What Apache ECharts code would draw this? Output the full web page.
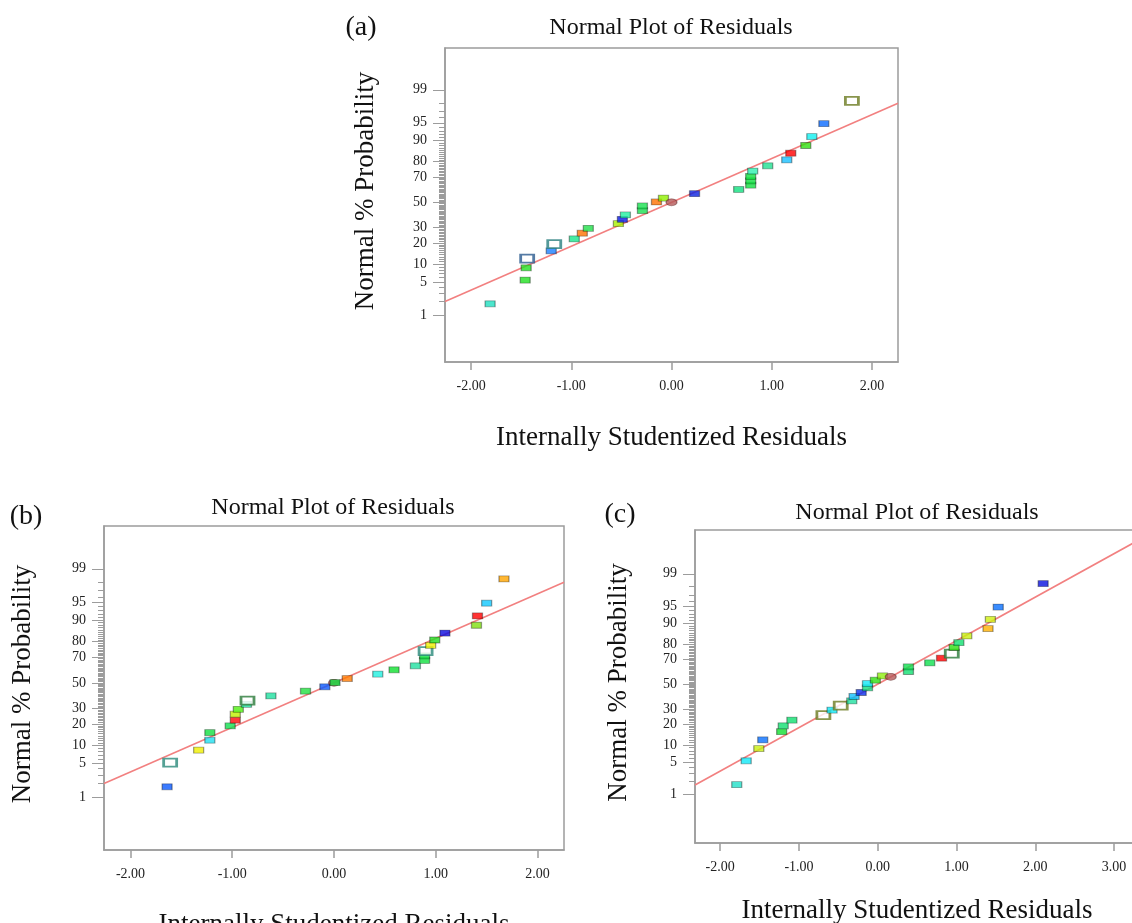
<!DOCTYPE html>
<html>
<head>
<meta charset="utf-8">
<script src="https://cdn.jsdelivr.net/npm/echarts@6/dist/echarts.min.js"></script>
<style>
html,body{margin:0;padding:0;background:#ffffff;}
#chart{width:1132px;height:923px;}
</style>
</head>
<body>
<div id="chart"></div>
<script>
// ---------- tick labels ----------
const probTicks = [1, 5, 10, 20, 30, 50, 70, 80, 90, 95, 99];
const xTicksAB = [-2, -1, 0, 1, 2];
const xTicksC = [-2, -1, 0, 1, 2, 3];

// ---------- panel (a) ----------
const residA = [-1.81, -1.46, -1.45, -1.44, -1.20, -1.17, -0.97, -0.89, -0.83, -0.53, -0.49, -0.46, -0.29, -0.29, -0.15, -0.08, 0.00, 0.23, 0.67, 0.79, 0.79, 0.79, 0.81, 0.96, 1.15, 1.19, 1.34, 1.40, 1.52, 1.80];
const probA  = [1.8, 5.4, 8.8, 12.2, 15.8, 19.4, 22.5, 26.2, 29.6, 33.0, 36.3, 39.7, 43.2, 47.0, 50.3, 53.5, 50.0, 57.1, 60.5, 63.9, 67.2, 70.4, 74.1, 77.5, 81.0, 84.5, 88.0, 91.3, 94.8, 98.2];
const kindA  = ['f','f','f','h','f','h','f','f','f','f','f','f','f','f','f','f','e','f','f','f','f','f','f','f','f','f','f','f','f','h'];
const colorA = ['#1fe0c0','#22e022','#22e022','#2a5a8f','#1a80ff','#2a8080','#19e68c','#ff7000','#22e04a','#a8f000','#0a1ae8','#20f0a0','#19e050','#19e050','#ff7000','#90f000','#b55a5a','#0a22e0','#10e080','#10e040','#10e040','#10e040','#30f0b0','#20e090','#1ac0ff','#ff0000','#30e010','#10f0f0','#0a6aff','#6b7a20'];
const fitSlopeA = 0.907;

// ---------- panel (b) ----------
const residB = [-1.64, -1.61, -1.33, -1.22, -1.22, -1.02, -0.97, -0.97, -0.94, -0.86, -0.85, -0.62, -0.28, -0.09, 0.00, 0.01, 0.13, 0.43, 0.59, 0.80, 0.89, 0.89, 0.90, 0.95, 0.99, 1.09, 1.40, 1.41, 1.50, 1.67];
const probB  = [1.7, 5.2, 8.5, 12.1, 15.5, 19.0, 22.3, 26.1, 29.5, 33.1, 35.9, 39.5, 43.3, 46.8, 50.0, 50.2, 53.5, 57.1, 60.5, 63.6, 67.6, 70.9, 74.2, 77.8, 80.9, 84.5, 88.0, 91.4, 94.8, 98.3];
const kindB  = ['f','h','f','f','f','f','f','f','f','f','h','f','f','f','e','f','f','f','f','f','f','f','h','f','f','f','f','f','f','f'];
const colorB = ['#0a5aff','#2a8a7a','#f0f000','#20e0f0','#10e040','#10e050','#ff0a0a','#c0f000','#50f010','#20e0a0','#2a7a3a','#20e0a0','#22e040','#0a5aff','#b55a5a','#10e040','#ff7a00','#20f0e0','#10e030','#20e0a0','#10e040','#10e040','#2a8a7a','#f0f000','#20e020','#0a0ae0','#80e010','#ff0000','#10c8ff','#ffa500'];
const fitSlopeB = 0.909;

// ---------- panel (c) ----------
const residC = [-1.79, -1.67, -1.51, -1.46, -1.22, -1.20, -1.09, -0.69, -0.58, -0.47, -0.33, -0.30, -0.21, -0.13, -0.13, -0.03, 0.06, 0.165, 0.39, 0.39, 0.66, 0.81, 0.94, 0.97, 1.03, 1.13, 1.40, 1.43, 1.53, 2.10];
const probC  = [1.7, 5.3, 8.7, 12.0, 15.8, 19.0, 22.4, 25.7, 29.2, 32.6, 36.2, 39.7, 43.0, 46.9, 50.5, 53.3, 56.9, 56.1, 60.5, 64.2, 67.3, 70.8, 74.0, 78.0, 80.9, 84.5, 87.9, 91.4, 94.8, 98.3];
const kindC  = ['f','f','f','f','f','f','f','h','f','h','f','f','f','f','f','f','f','e','f','f','f','f','h','f','f','f','f','f','f','f'];
const colorC = ['#20e0c8','#10e8f8','#c8f010','#0a70ff','#10e030','#10e070','#10e070','#6b7a20','#10e8f8','#6b7a20','#20e0a0','#10c0ff','#0a30f0','#10e080','#10e8f8','#30e010','#90f010','#b55a5a','#10e070','#10e050','#10e050','#ff0000','#2a7a3a','#30e010','#10e070','#c8f010','#ffb000','#d0f010','#0a70ff','#0a10e0'];
const fitSlopeC = 0.917;

// ---------- normal quantile (probability scale) ----------
function qnorm(p) {
  const a=[-3.969683028665376e+01,2.209460984245205e+02,-2.759285104469687e+02,1.383577518672690e+02,-3.066479806614716e+01,2.506628277459239e+00];
  const b=[-5.447609879822406e+01,1.615858368580409e+02,-1.556989798598866e+02,6.680131188771972e+01,-1.328068155288572e+01];
  const c=[-7.784894002430293e-03,-3.223964580411365e-01,-2.400758277161838e+00,-2.549732539343734e+00,4.374664141464968e+00,2.938163982698783e+00];
  const d=[7.784695709041462e-03,3.224671290700398e-01,2.445134137142996e+00,3.754408661907416e+00];
  const pl=0.02425, ph=1-pl;
  let q, r;
  if (p < pl) { q=Math.sqrt(-2*Math.log(p)); return (((((c[0]*q+c[1])*q+c[2])*q+c[3])*q+c[4])*q+c[5])/((((d[0]*q+d[1])*q+d[2])*q+d[3])*q+1); }
  if (p <= ph) { q=p-0.5; r=q*q; return (((((a[0]*r+a[1])*r+a[2])*r+a[3])*r+a[4])*r+a[5])*q/(((((b[0]*r+b[1])*r+b[2])*r+b[3])*r+b[4])*r+1); }
  q=Math.sqrt(-2*Math.log(1-p)); return -(((((c[0]*q+c[1])*q+c[2])*q+c[3])*q+c[4])*q+c[5])/((((d[0]*q+d[1])*q+d[2])*q+d[3])*q+1);
}
const zOf = pct => qnorm(pct / 100);
const majorZ = probTicks.map(zOf);
const minorZ = [];
for (let p = 2; p <= 98; p++) { if (probTicks.indexOf(p) < 0) minorZ.push(zOf(p)); }

const FONT = 'Liberation Serif, "Times New Roman", serif';
const AXIS_COLOR = '#9c9c9c';
const TEXT_COLOR = '#222';

const panels = [
  { grid:{left:445, top:48, width:453, height:314}, xmin:-2.26, xmax:2.26, ymin:-3.30, ymax:3.19, xTicks:xTicksAB,
    resid:residA, prob:probA, kind:kindA, color:colorA, slope:fitSlopeA, xGap:62, xPad:[0,0,0,0], yGap:66, yPad:[0,0,0,28] },
  { grid:{left:104, top:526, width:460, height:324}, xmin:-2.26, xmax:2.26, ymin:-3.41, ymax:3.20, xTicks:xTicksAB,
    resid:residB, prob:probB, kind:kindB, color:colorB, slope:fitSlopeB, xGap:61, xPad:[0,0,0,0], yGap:68, yPad:[0,0,0,8] },
  { grid:{left:695, top:530, width:460, height:313}, xmin:-2.32, xmax:3.52, ymin:-3.35, ymax:3.25, xTicks:xTicksC,
    resid:residC, prob:probC, kind:kindC, color:colorC, slope:fitSlopeC, xGap:54, xPad:[0,16,0,0], yGap:63, yPad:[0,0,0,8] }
];

const option = { animation:false, backgroundColor:'#ffffff', grid:[], xAxis:[], yAxis:[], series:[], graphic:[] };

panels.forEach((P, i) => {
  option.grid.push(Object.assign({ show:true, borderColor:AXIS_COLOR, borderWidth:1.5, backgroundColor:'#ffffff', containLabel:false, outerBoundsMode:'none' }, P.grid));
  option.xAxis.push({
    type:'value', gridIndex:i, min:P.xmin, max:P.xmax, position:'bottom',
    name:'Internally Studentized Residuals', nameLocation:'middle', nameGap:P.xGap,
    nameTextStyle:{ fontFamily:FONT, fontSize:27, color:'#111', padding:P.xPad },
    axisLine:{ show:true, onZero:false, lineStyle:{ color:AXIS_COLOR, width:1.5 } },
    axisTick:{ show:true, inside:false, length:8, customValues:P.xTicks, lineStyle:{ color:AXIS_COLOR, width:1.5 } },
    axisLabel:{ show:true, customValues:P.xTicks, margin:17, fontFamily:FONT, fontSize:14, color:TEXT_COLOR, formatter:v => Number(v).toFixed(2) },
    splitLine:{ show:false }
  });
  option.yAxis.push({
    type:'value', gridIndex:i, min:P.ymin, max:P.ymax, position:'left',
    name:'Normal % Probability', nameLocation:'middle', nameGap:P.yGap,
    nameTextStyle:{ fontFamily:FONT, fontSize:27, color:'#111', padding:P.yPad },
    axisLine:{ show:true, onZero:false, lineStyle:{ color:AXIS_COLOR, width:1.5 } },
    axisTick:{ show:true, inside:false, length:12, customValues:majorZ, lineStyle:{ color:AXIS_COLOR, width:1 } },
    axisLabel:{ show:true, customValues:majorZ, margin:18, fontFamily:FONT, fontSize:14, color:TEXT_COLOR,
      formatter:v => { const p = probTicks.find(t => Math.abs(zOf(t) - v) < 1e-4); return p == null ? '' : String(p); } },
    splitLine:{ show:false }
  });
  option.yAxis.push({
    type:'value', gridIndex:i, min:P.ymin, max:P.ymax, position:'left',
    axisLine:{ show:false, onZero:false },
    axisTick:{ show:true, inside:false, length:6, customValues:minorZ, lineStyle:{ color:AXIS_COLOR, width:1 } },
    axisLabel:{ show:false },
    splitLine:{ show:false }
  });
  option.series.push({
    type:'line', xAxisIndex:i, yAxisIndex:2*i, silent:true, z:1, symbol:'none',
    lineStyle:{ color:'#f28080', width:1.6 },
    data:[[P.xmin, P.slope*P.xmin], [P.xmax, P.slope*P.xmax]]
  });
  option.series.push({
    type:'scatter', xAxisIndex:i, yAxisIndex:2*i, z:3,
    data:P.resid.map((r, k) => {
      const kind = P.kind[k], col = P.color[k];
      const item = { value:[r, zOf(P.prob[k])] };
      if (kind === 'h') {
        item.symbol = 'rect'; item.symbolSize = [13, 8];
        item.itemStyle = { color:'#ffffff', borderColor:col, borderWidth:2.2 };
      } else if (kind === 'e') {
        item.symbol = 'circle'; item.symbolSize = [11, 7];
        item.itemStyle = { color:col, borderColor:'rgba(80,30,30,0.6)', borderWidth:1 };
      } else {
        item.symbol = 'rect'; item.symbolSize = [10, 6];
        item.itemStyle = { color:col, borderColor:'rgba(0,0,0,0.45)', borderWidth:1 };
      }
      return item;
    })
  });
});

const texts = [
  { t:'Normal Plot of Residuals', x:671, y:28, size:24 },
  { t:'Normal Plot of Residuals', x:333, y:508, size:24 },
  { t:'Normal Plot of Residuals', x:917, y:513, size:24 },
  { t:'(a)', x:361, y:28, size:28 },
  { t:'(b)', x:26, y:517, size:28 },
  { t:'(c)', x:620, y:515, size:28 }
];
texts.forEach(o => option.graphic.push({
  type:'text', x:o.x, y:o.y, z:10,
  style:{ text:o.t, fontFamily:FONT, fontSize:o.size, fill:'#111', align:'center', verticalAlign:'middle' }
}));

const chart = echarts.init(document.getElementById('chart'), null, { renderer:'canvas' });
chart.setOption(option);
</script>
</body>
</html>
